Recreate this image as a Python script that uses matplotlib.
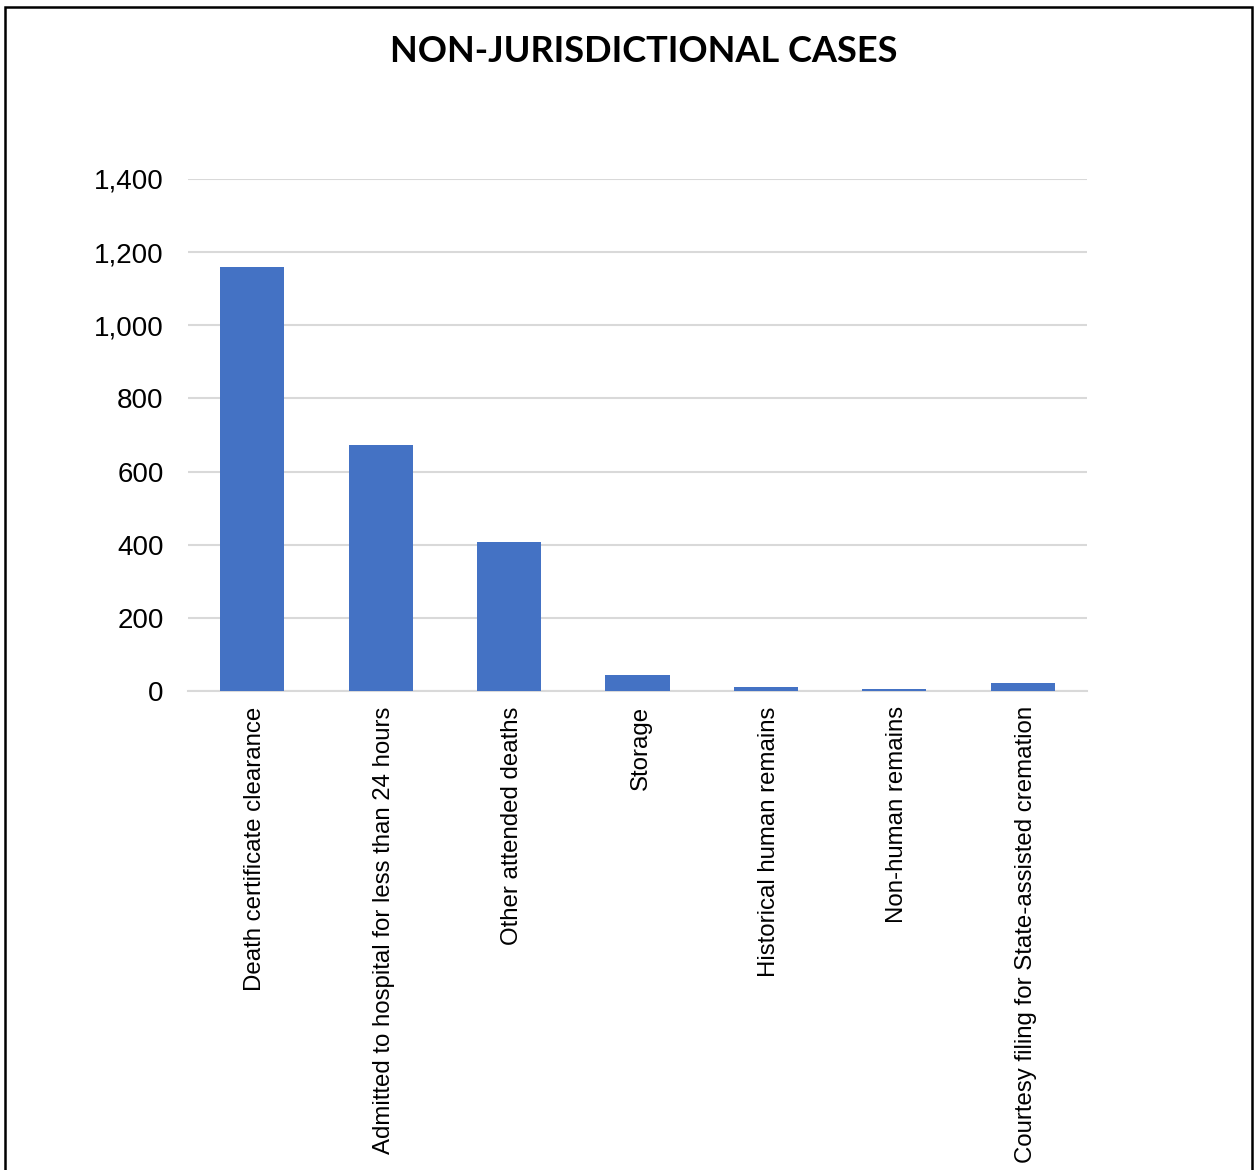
import matplotlib
matplotlib.use("Agg")
import matplotlib.pyplot as plt
from matplotlib.patches import Rectangle
import matplotlib.patheffects as pe
import matplotlib.transforms as mtransforms
from matplotlib.ticker import FuncFormatter

categories = [
    "Death certificate clearance",
    "Admitted to hospital for less than 24 hours",
    "Other attended deaths",
    "Storage",
    "Historical human remains",
    "Non-human remains",
    "Courtesy filing for State-assisted cremation",
]
values = [1160, 673, 407, 43, 10, 5, 21]
yticks = [0, 200, 400, 600, 800, 1000, 1200, 1400]
title = "NON-JURISDICTIONAL CASES"

W, H = 1254, 1170
dpi = 100
fig = plt.figure(figsize=(W / dpi, H / dpi), dpi=dpi)
fig.patch.set_facecolor("white")

# border
fig.patches.append(Rectangle((5 / W, -0.01), (1252 - 5) / W, 1 - 7 / H + 0.01,
                             transform=fig.transFigure, fill=False,
                             edgecolor="black", linewidth=1.8))

left, right = 188 / W, 1087 / W
bottom, top = 1 - 691 / H, 1 - 179 / H
ax = fig.add_axes([left, bottom, right - left, top - bottom])

x = list(range(len(categories)))
bars = ax.bar(x, values, width=0.5, color="#4472C4", zorder=3)
for b in bars:
    b.set_path_effects([pe.SimplePatchShadow(offset=(0, 0), shadow_rgbFace="#000000", alpha=0.12),
                        pe.Normal()])

ax.set_xlim(-0.5, len(categories) - 0.5)
ax.set_ylim(0, 1400)
ax.set_yticks(yticks)
ax.yaxis.set_major_formatter(FuncFormatter(lambda v, p: f"{int(v):,}"))
ax.grid(axis="y", color="#d9d9d9", linewidth=1.5, zorder=0)
for s in ["top", "right", "left"]:
    ax.spines[s].set_visible(False)
ax.spines["bottom"].set_color("#d9d9d9")
ax.spines["bottom"].set_linewidth(1.5)
ax.tick_params(axis="y", length=0, pad=17.5, labelsize=20, labelcolor="black")
ax.tick_params(axis="x", length=0, pad=11)
ax.set_xticks(x)
ax.set_xticklabels(categories, rotation=90, fontsize=17.3, va="top", ha="center")
shift = mtransforms.ScaledTranslation(3 / dpi, 0, fig.dpi_scale_trans)
for lab in ax.get_xticklabels():
    lab.set_transform(lab.get_transform() + shift)
for lab in ax.get_xticklabels() + ax.get_yticklabels():
    lab.set_fontfamily("Liberation Sans")

fig.text(644 / W, 1 - 51 / H, title, ha="center", va="center",
         fontsize=26, fontweight="bold", family="Lato")

fig.savefig("out.png", dpi=dpi)
